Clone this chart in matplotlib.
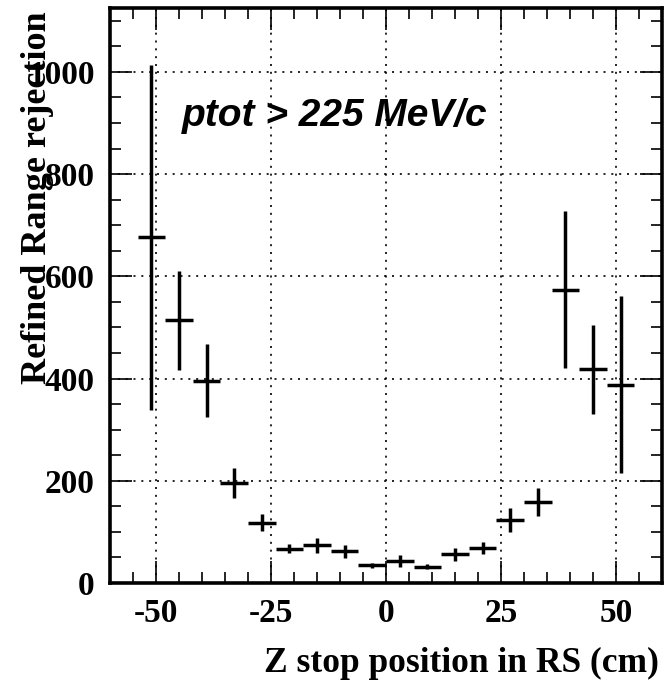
import numpy as np
import matplotlib
matplotlib.use('Agg')
from matplotlib import pyplot as plt
from matplotlib.ticker import MultipleLocator

# Z stop position bins (cm), 6 cm wide
z_centers = [-51, -45, -39, -33, -27, -21, -15, -9, -3, 3, 9, 15, 21, 27, 33, 39, 45, 51]
z_halfwidth = [3] * len(z_centers)
rejection = [676, 514, 396, 196, 118, 67, 74, 62, 35, 43, 32, 56, 69, 123, 158, 574, 418, 388]
rejection_err = [337, 97, 71, 29, 17, 9, 15, 13, 5, 11, 5, 12, 12, 24, 27, 154, 87, 173]

x_ticks = [-50, -25, 0, 25, 50]
y_ticks = [0, 200, 400, 600, 800, 1000]

serif = 'Liberation Serif'
plt.rcParams['axes.unicode_minus'] = False


def main():
    fig = plt.figure(figsize=(6.65, 6.8), dpi=100)
    ax = fig.add_axes([110 / 665, 97 / 680, 552 / 665, 575 / 680])

    ax.errorbar(z_centers, rejection, xerr=z_halfwidth, yerr=rejection_err,
                fmt='none', ecolor='black', elinewidth=2.5, capsize=0, zorder=3)

    ax.set_xlim(-60, 60)
    ax.set_ylim(0, 1125)
    ax.set_xticks(x_ticks)
    ax.set_yticks(y_ticks)
    ax.xaxis.set_minor_locator(MultipleLocator(5))
    ax.yaxis.set_minor_locator(MultipleLocator(50))

    ax.grid(True, which='major', color='black', linewidth=1.2, linestyle=(0, (1.2, 3.5)))
    ax.tick_params(which='both', direction='in', top=True, right=True, width=1.2)
    ax.tick_params(which='major', length=16, pad=11)
    ax.tick_params(which='minor', length=8)
    for lab in ax.get_xticklabels() + ax.get_yticklabels():
        lab.set_fontfamily(serif)
        lab.set_fontweight('bold')
        lab.set_fontsize(24)
    for sp in ax.spines.values():
        sp.set_linewidth(2.6)

    ax.text(-44.3, 895, 'ptot > 225 MeV/c', family='Liberation Sans', fontweight='bold',
            fontstyle='italic', fontsize=28, va='baseline', ha='left')

    fig.text(38 / 665, 1 - 11 / 680, 'Refined Range rejection', family=serif,
             fontweight='bold', fontsize=26, rotation=90, ha='center', va='top')
    fig.text(659 / 665, 8 / 680, 'Z stop position in RS (cm)', family=serif,
             fontweight='bold', fontsize=25.5, ha='right', va='baseline')

    fig.savefig('out.png', dpi=100)


if __name__ == "__main__":
    main()
